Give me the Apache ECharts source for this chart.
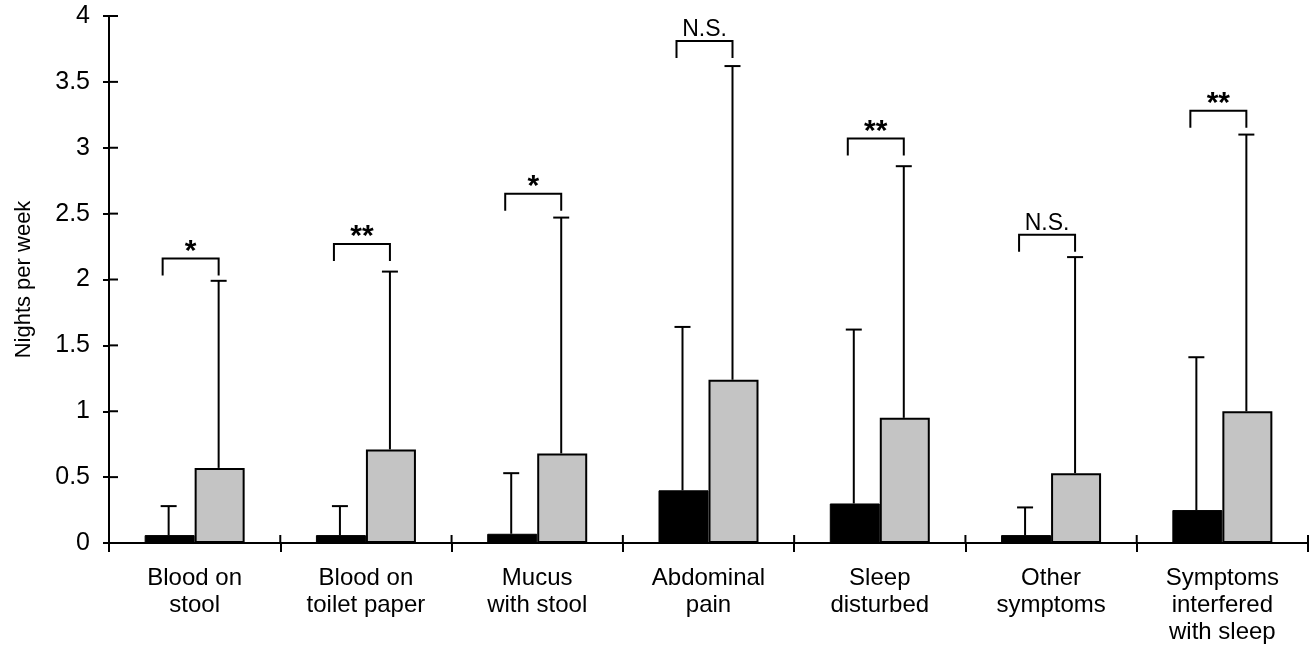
<!DOCTYPE html>
<html><head><meta charset="utf-8">
<script src="https://cdn.jsdelivr.net/npm/echarts@6/dist/echarts.min.js"></script>
<style>html,body{margin:0;padding:0;background:#fff}#c{width:1313px;height:647px}</style>
</head><body><div id="c"></div>
<script>
const categories = ['Blood on\nstool', 'Blood on\ntoilet paper', 'Mucus\nwith stool', 'Abdominal\npain', 'Sleep\ndisturbed', 'Other\nsymptoms', 'Symptoms\ninterfered\nwith sleep'];
const blackMeans = [0.06, 0.06, 0.07, 0.40, 0.30, 0.06, 0.25];
const blackErrTops = [0.28, 0.28, 0.53, 1.64, 1.62, 0.27, 1.41];
const grayMeans = [0.57, 0.71, 0.68, 1.24, 0.95, 0.53, 1.00];
const grayErrTops = [1.99, 2.06, 2.47, 3.62, 2.86, 2.17, 3.10];
const bracketLevels = [2.16, 2.27, 2.65, 3.81, 3.07, 2.34, 3.28];
const sigLabels = ['*', '**', '*', 'N.S.', '**', 'N.S.', '**'];
const yTickValues = [0, 0.5, 1, 1.5, 2, 2.5, 3, 3.5, 4];
const yMin = 0, yMax = 4, yStep = 0.5;

const FONT = 'Liberation Sans';
const BAR_W = 50;
const chart = echarts.init(document.getElementById('c'));

function errRender(sign) {
  return function (params, api) {
    const cat = api.value(0);
    const base = api.coord([cat, api.value(1)]);
    const top = api.coord([cat, api.value(2)]);
    const x = base[0] + sign * BAR_W / 2 - 1;
    return { type: 'group', children: [
      { type: 'line', shape: { x1: x, y1: base[1], x2: x, y2: top[1] }, style: { stroke: '#000', lineWidth: 2 } },
      { type: 'line', shape: { x1: x - 8, y1: top[1], x2: x + 8, y2: top[1] }, style: { stroke: '#000', lineWidth: 2 } }
    ] };
  };
}

function bracketRender(params, api) {
  const cat = api.value(0);
  const p = api.coord([cat, api.value(1)]);
  const xl = p[0] - BAR_W / 2 - 7, xr = p[0] + BAR_W / 2 - 1;
  const y = p[1];
  const label = sigLabels[params.dataIndex];
  const star = label.indexOf('*') >= 0;
  return { type: 'group', children: [
    { type: 'polyline', shape: { points: [[xl, y + 17], [xl, y], [xr, y], [xr, y + 17]] }, style: { stroke: '#000', lineWidth: 2, fill: null } },
    { type: 'text', style: { text: label, x: (xl + xr) / 2, y: star ? y - 7 : y, align: 'center', verticalAlign: star ? 'middle' : 'bottom',
      fontFamily: FONT, fontSize: star ? 30 : 23, fontWeight: star ? 'bold' : 'normal', fill: '#000' } }
  ] };
}

// inner halves of the axis ticks (ticks cross the axis lines in the reference)
function yInnerTick(params, api) {
  const c = api.coord([0, api.value(1)]);
  const x0 = c[0] - api.size([1, 0])[0] / 2;
  return { type: 'group', children: [
    { type: 'line', shape: { x1: x0, y1: c[1], x2: x0 + 9, y2: c[1] }, style: { stroke: '#000', lineWidth: 2 } }
  ] };
}
function xInnerTick(params, api) {
  const cat = api.value(0);
  const c = api.coord([cat, 0]);
  const band = api.size([1, 0])[0];
  const kids = [{ type: 'line', shape: { x1: c[0] - band / 2, y1: c[1], x2: c[0] - band / 2, y2: c[1] - 8 }, style: { stroke: '#000', lineWidth: 2 } }];
  if (cat === categories.length - 1) kids.push({ type: 'line', shape: { x1: c[0] + band / 2, y1: c[1], x2: c[0] + band / 2, y2: c[1] - 8 }, style: { stroke: '#000', lineWidth: 2 } });
  return { type: 'group', children: kids };
}

const axisBlack = { color: '#000', width: 2 };
chart.setOption({
  animation: false,
  backgroundColor: '#fff',
  grid: { left: 109, right: 5, top: 16, bottom: 104 },
  xAxis: { type: 'category', data: categories, axisLine: { show: true, lineStyle: axisBlack }, axisTick: { show: true, length: 9, lineStyle: axisBlack },
    axisLabel: { interval: 0, margin: 22, fontFamily: FONT, fontSize: 24, lineHeight: 27, color: '#000' }, splitLine: { show: false } },
  yAxis: { type: 'value', min: yMin, max: yMax, interval: yStep, name: 'Nights per week', nameLocation: 'middle', nameGap: 74,
    nameTextStyle: { fontFamily: FONT, fontSize: 22, color: '#000' },
    axisLine: { show: true, lineStyle: axisBlack }, axisTick: { show: true, length: 6, lineStyle: axisBlack },
    axisLabel: { margin: 19, fontFamily: FONT, fontSize: 25, color: '#000' }, splitLine: { show: false } },
  series: [
    { type: 'bar', data: blackMeans, barWidth: BAR_W, barGap: '0%', itemStyle: { color: '#000', borderColor: '#000', borderWidth: 1 } },
    { type: 'bar', data: grayMeans, barWidth: BAR_W, barGap: '0%', itemStyle: { color: '#c4c4c4', borderColor: '#000', borderWidth: 2 } },
    { type: 'custom', renderItem: errRender(-1), data: blackMeans.map((v, i) => [i, v, blackErrTops[i]]), z: 3 },
    { type: 'custom', renderItem: errRender(1), data: grayMeans.map((v, i) => [i, v, grayErrTops[i]]), z: 3 },
    { type: 'custom', renderItem: bracketRender, data: bracketLevels.map((v, i) => [i, v]), z: 3 },
    { type: 'custom', renderItem: yInnerTick, data: yTickValues.map(v => [0, v]), z: 4 },
    { type: 'custom', renderItem: xInnerTick, data: categories.map((c, i) => [i, 0]), z: 4 }
  ]
});
</script></body></html>
